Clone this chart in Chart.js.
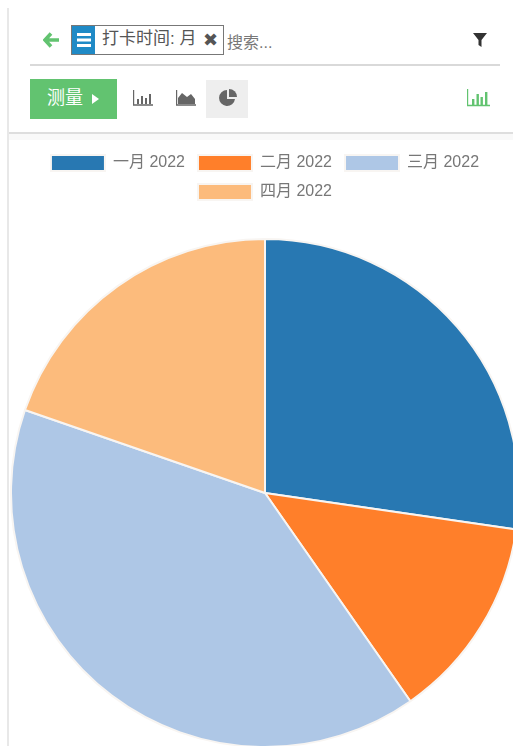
<!DOCTYPE html>
<html>
<head>
<meta charset="utf-8">
<title>打卡时间</title>
<script src="https://cdn.jsdelivr.net/npm/chart.js@4"></script>
<style>
  html, body { margin: 0; padding: 0; background: #fff; overflow: hidden; }
  body { width: 513px; height: 746px; position: relative; font-family: "Liberation Sans", "Noto Sans CJK SC", sans-serif; color: #4c4c4c; filter: blur(0.4px); }
  .abs { position: absolute; }
  #leftLine { left: 7px; top: 8px; width: 2px; height: 738px; background: #e8e8e8; }
  #searchLine { left: 30px; top: 64px; width: 470px; height: 2px; background: #d9d9d9; }
  #panelLine { left: 9px; top: 132px; width: 504px; height: 2px; background: #dedede; }
  #panelBelow { left: 9px; top: 134px; width: 504px; height: 6px; background: #f9f9f9; }
  #facet { left: 71px; top: 25px; width: 153px; height: 30px; border: 1px solid #777; box-sizing: border-box; background: #fff; }
  #facetIcon { left: 0; top: 0; width: 23px; height: 28px; background: #1f8ac6; }
  #facetText { left: 30px; top: 1px; font-size: 17px; line-height: 24px; white-space: nowrap; color: #555; }
  #facetClose { left: 131px; top: 0; font-size: 18px; line-height: 28px; font-weight: bold; color: #555; font-family: "DejaVu Sans"; }
  #search { left: 227px; top: 32px; font-size: 16px; line-height: 22px; color: #777; }
  #measure { left: 30px; top: 79px; width: 87px; height: 40px; background: #62c370; color: #fff; font-size: 18px; line-height: 38px; box-sizing: border-box; padding-left: 17px; }
  #pieBtn { left: 206px; top: 80px; width: 42px; height: 38px; background: #eeeeee; }
  #chartBox { left: 9px; top: 142px; width: 512px; height: 606px; }
  svg { position: absolute; display: block; }
</style>
</head>
<body>
<div class="abs" id="leftLine"></div>
<div class="abs" id="searchLine"></div>
<div class="abs" id="panelLine"></div>
<div class="abs" id="panelBelow"></div>

<svg style="left:43px;top:32px" width="16" height="16" viewBox="0 0 16 16"><path d="M8 1.5 L2 8 L8 14.5 M2.5 8 H16" fill="none" stroke="#62c370" stroke-width="3.6"/></svg>
<div class="abs" id="facet">
  <div class="abs" id="facetIcon"><svg style="left:5px;top:7px" width="14" height="14"><rect y="0" width="14" height="3" fill="#fff"/><rect y="5.5" width="14" height="3" fill="#fff"/><rect y="11" width="14" height="3" fill="#fff"/></svg></div>
  <div class="abs" id="facetText">打卡时间: 月</div>
  <div class="abs" id="facetClose">✖</div>
</div>
<div class="abs" id="search">搜索...</div>
<svg style="left:473px;top:33px" width="14" height="14" viewBox="0 0 14 14"><path d="M0 0 H14 L8.5 7 V14 L5.5 12 V7 Z" fill="#333"/></svg>

<div class="abs" id="measure">测量<svg style="left:62px;top:15px" width="7" height="10"><path d="M0 0 L7 5 L0 10 Z" fill="#fff"/></svg></div>
<svg style="left:133px;top:90px" width="20" height="16" viewBox="0 0 20 16"><path d="M0.5 0 V15 H20" fill="none" stroke="#666" stroke-width="1.4"/><path d="M4 9h2v5H4zM8 6h2v8H8zM12 8h2v6h-2zM16 4h2v10h-2z" fill="#666"/></svg>
<svg style="left:176px;top:90px" width="20" height="16" viewBox="0 0 20 16"><path d="M0.5 0 V15 H20" fill="none" stroke="#666" stroke-width="1.4"/><path d="M2 14 V8 L6 3 L11 7 L15 4 L19 9 V14 Z" fill="#666"/></svg>
<div class="abs" id="pieBtn"></div>
<svg style="left:219px;top:89px" width="18" height="18" viewBox="0 0 18 18"><path d="M8 1 A8 8 0 1 0 16 10 L8 10 Z" fill="#666"/><path d="M10 0 A8 8 0 0 1 18 8 L10 8 Z" fill="#666"/></svg>
<svg style="left:467px;top:89px" width="23" height="18" viewBox="0 0 23 18"><path d="M0.5 0 V16.5 H23" fill="none" stroke="#62c370" stroke-width="1.4"/><path d="M5 10h2.4v6H5zM9.5 5h2.4v11H9.5zM13.5 8h2.4v8h-2.4zM18 3h2.4v13H18z" fill="#62c370"/></svg>

<div class="abs" id="chartBox"><canvas id="pie" width="512" height="606"></canvas></div>

<script>
const categories = ["一月 2022", "二月 2022", "三月 2022", "四月 2022"];
const seriesValues = [27.3, 13.0, 40, 19.7];
const sliceColors = ["#2878b2", "#ff7f2a", "#aec7e6", "#fcbb7c"];

// extra gap between the legend and the pie
const legendGap = {
  id: "legendGap",
  beforeInit(chart) {
    const fit = chart.legend.fit;
    chart.legend.fit = function () {
      fit.call(this);
      this.height += 28;
    };
  },
};

new Chart(document.getElementById("pie").getContext("2d"), {
  type: "pie",
  plugins: [legendGap],
  data: {
    labels: categories,
    datasets: [{
      data: seriesValues,
      backgroundColor: sliceColors,
      borderColor: "#f8f5f2",
      borderWidth: 2,
    }],
  },
  options: {
    responsive: false,
    animation: false,
    layout: { padding: 0 },
    plugins: {
      tooltip: { enabled: false },
      legend: {
        position: "top",
        labels: {
          boxWidth: 54,
          boxHeight: 16,
          padding: 13,
          color: "#777",
          font: { size: 16, family: "'Liberation Sans', 'Noto Sans CJK SC', sans-serif" },
        },
      },
    },
  },
});
</script>
</body>
</html>
